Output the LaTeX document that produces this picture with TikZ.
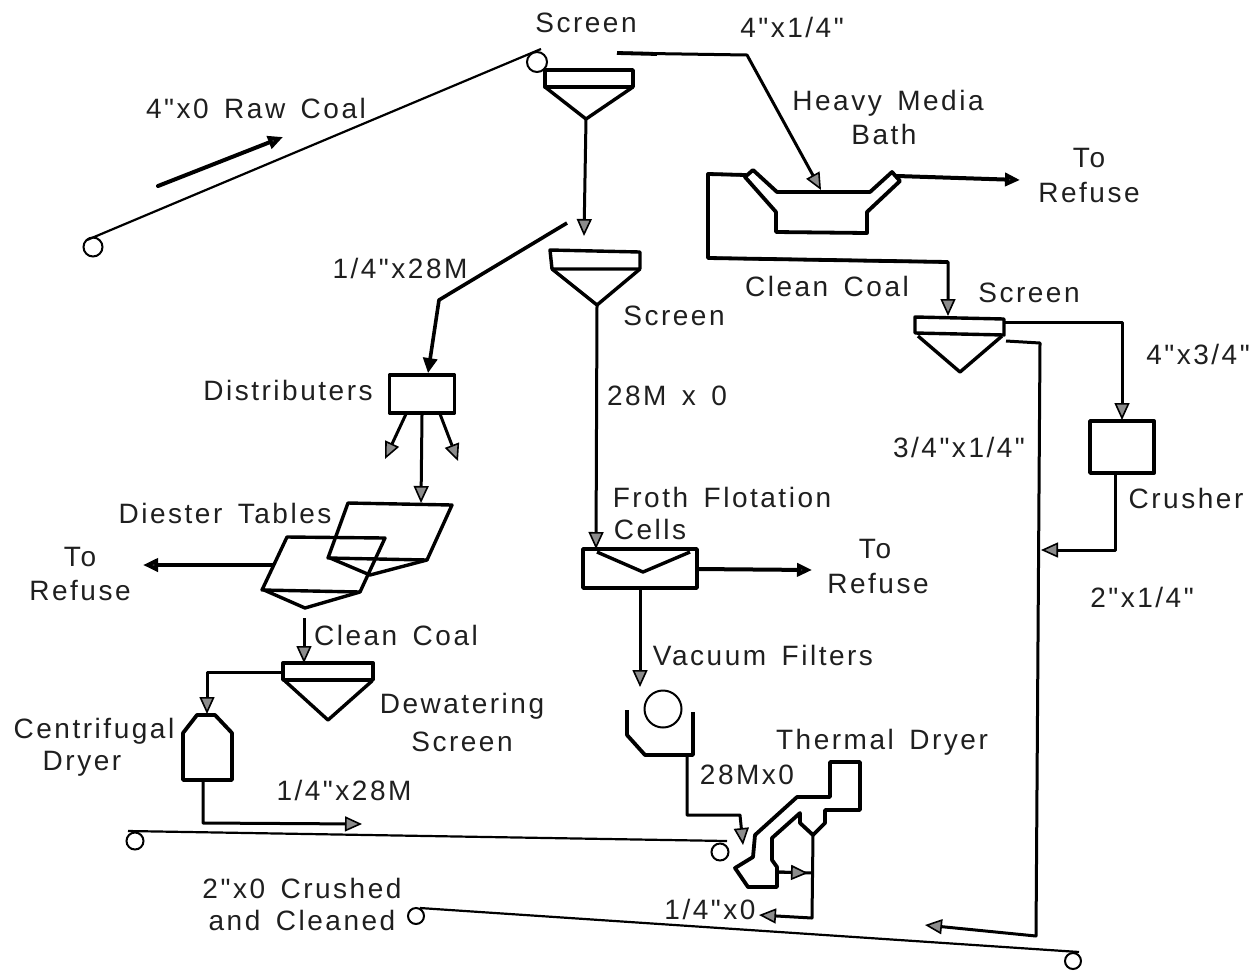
\documentclass[tikz,border=0pt]{standalone}
\usepackage{fontspec}
\setmainfont[LetterSpace=9,WordSpace=1.5,Ligatures=TeXOff]{Liberation Sans}
\usetikzlibrary{arrows.meta}
\tikzset{
  lab/.style={font=\fontsize{28}{30}\selectfont,inner sep=0pt,text=black!88,align=center},
  thinline/.style={line width=2.2pt,line join=round},
  flow/.style={line width=3pt,line join=round,-{Triangle[open,fill=black!45,length=17pt,width=15pt,line width=1.6pt]}},
  flowbold/.style={line width=4pt,line join=round,line cap=round,-{Triangle[length=15pt,width=13pt,fill=black!75]}},
  equip/.style={line width=3.4pt,line join=round},
  wall/.style={line width=3.8pt,line join=round},
  drum/.style={circle,draw,line width=2pt,inner sep=0pt},
  boxnode/.style={rectangle,draw,line width=3.8pt,inner sep=0pt,line join=round},
}
\begin{document}
\begin{tikzpicture}[x=1pt,y=-1pt]
\useasboundingbox (0,0) rectangle (1257,970);
% drums
\node[drum,minimum size=19pt] (d1a) at (93,247) {};
\node[drum,minimum size=20pt] (d1b) at (537,62) {};
\node[drum,minimum size=17pt] (d2a) at (135,841) {};
\node[drum,minimum size=17pt] (d2b) at (720,852) {};
\node[drum,minimum size=16pt] (d3a) at (416,916) {};
\node[drum,minimum size=16pt] (d3b) at (1073,961) {};
\coordinate (c1a) at (87,240); \coordinate (c1b) at (541,49);
\coordinate (c2a) at (128,831); \coordinate (c2b) at (727,841);
\coordinate (c3a) at (420,908); \coordinate (c3b) at (1079,952);
\draw[thinline] (c1a) -- (c1b);
\draw[thinline] (c2a) -- (c2b);
\draw[thinline] (c3a) -- (c3b);
% raw coal direction
\coordinate (r1) at (158,186); \coordinate (r2) at (283,137);
\draw[flowbold] (r1) -- (r2);
% Screen 1
\coordinate (s1tip) at (586,119);
\draw[equip] (545,70) -- (633,70) -- (633,87) -- (545,87) -- cycle;
\draw[equip] (545,87) -- (s1tip) -- (633,87);
\coordinate (s1in) at (584,236);
\draw[flow] (s1tip) -- (s1in);
% to heavy media
\coordinate (o1) at (617,53); \coordinate (o2) at (747,55); \coordinate (bathin) at (821,190);
\draw[flow] (o1) -- (o2) -- (bathin);
\draw[wall] (o1) -- ++(40,1);
% bath
\draw[wall] (745,177) -- (753,170) -- (777,192) -- (870,192) -- (892,172) -- (900,181) -- (867,212) -- (867,233) -- (776,232) -- (776,212) -- cycle;
\coordinate (bl) at (746,175); \coordinate (br) at (897,176); \coordinate (ref1) at (1020,180);
\draw[flowbold] (br) -- (ref1);
\coordinate (s3in) at (948,316);
\draw[flow] (bl) -- (708,174) -- (708,258) -- (948,262) -- (s3in);
\draw[wall] (bl) -- (708,174) -- (708,258) -- (948,262);
% Screen 3
\coordinate (s3tip) at (960,372); \coordinate (s3r) at (1004,322); \coordinate (s3r2) at (1006,341);
\draw[equip] (915,317) -- (1004,319) -- (1004,335) -- (915,333) -- cycle;
\draw[equip] (918,336) -- (s3tip) -- (1002,336);
\node[boxnode,minimum width=64pt,minimum height=52pt] (crusher) at (1122,447) {};
\coordinate (crin) at (1122,420);
\draw[flow] (s3r) -- (1122,322) -- (crin);
\coordinate (crout) at (1115,473); \coordinate (join) at (1041,550);
\draw[flow] (crout) -- (1115,550) -- (join);
\coordinate (belt3) at (925,925);
\draw[flow] (s3r2) -- (1040,343) -- (1036,936) -- (belt3);
% Screen 2
\coordinate (s2tip) at (597,305);
\draw[equip] (550,250) -- (640,252) -- (640,269) -- (552,269) -- cycle;
\draw[equip] (552,269) -- (s2tip) -- (640,269);
\coordinate (frin) at (596,549);
\draw[flow] (s2tip) -- (frin);
% 1/4 x 28M
\coordinate (m1) at (567,223); \coordinate (m2) at (439,300);
\node[boxnode,minimum width=65pt,minimum height=38pt] (dist) at (422,394) {};
\draw[line width=3.6pt,line join=round,-{Triangle[length=15pt,width=14pt]}] (m1) -- (m2) -- (dist.north -| 428,360);
% distributor arrows
\coordinate (da) at (385,459); \coordinate (db) at (421,503); \coordinate (dc) at (458,461);
\draw[flow] (406,414) -- (da);
\draw[flow] (dist.south) -- (db);
\draw[flow] (440,414) -- (dc);
% Diester tables
\draw[equip] (348,503) -- (452,505) -- (427,560) -- (328,558) -- cycle;
\draw[equip] (330,558) -- (370,575) -- (427,560);
\draw[equip] (287,537) -- (385,538) -- (360,592) -- (262,590) -- cycle;
\draw[equip] (264,590) -- (305,608) -- (360,592);
\coordinate (tl) at (273,565); \coordinate (ref2) at (143,565);
\draw[flowbold] (tl) -- (ref2);
\coordinate (cc1) at (304,618); \coordinate (dwin) at (304,663);
\draw[flow] (cc1) -- (dwin);
% Dewatering screen
\draw[equip] (283,663) -- (373,663) -- (373,680) -- (283,680) -- cycle;
\draw[equip] (285,681) -- (328,720) -- (372,681);
\coordinate (dwl) at (283,672); \coordinate (cfin) at (207,714);
\draw[flow] (dwl) -- (207,672) -- (cfin);
% Centrifugal dryer
\draw[wall] (183,733) -- (183,780) -- (232,780) -- (232,733) -- (215,715) -- (197,715) -- cycle;
\coordinate (cfo) at (203,780); \coordinate (b2) at (362,824);
\draw[flow] (cfo) -- (203,823) -- (b2);
% Froth cell
\draw[wall] (583,549) -- (697,549) -- (697,588) -- (583,588) -- cycle;
\draw[equip] (597,552) -- (643,572) -- (690,552);
\coordinate (fo) at (697,569); \coordinate (ref3) at (812,570);
\draw[flowbold] (fo) -- (ref3);
\coordinate (fb) at (640,589); \coordinate (vin) at (640,687);
\draw[flow] (fb) -- (vin);
% Vacuum filter
\node[drum,minimum size=37pt] (vf) at (663,709) {};
\draw[wall] (627,710) -- (627,735) -- (645,755) -- (693,755) -- (693,712);
\coordinate (vo) at (687,755); \coordinate (tdin) at (743,845);
\draw[flow] (vo) -- (687,815) -- (740,815) -- (tdin);
% Thermal dryer
\draw[wall] (755,835) -- (797,797) -- (830,797) -- (830,762) -- (860,762) -- (860,810) -- (825,810) -- (825,823) -- (813,835) -- (800,823) -- (800,813) -- (772,838) -- (772,860) -- (777,867) -- (777,887) -- (748,887) -- (735,868) -- (753,857) -- cycle;
\coordinate (tdo) at (813,835); \coordinate (tdj) at (812,918); \coordinate (tda) at (759,915);
\draw[flow] (tdo) -- (tdj) -- (tda);
\coordinate (tdb1) at (777,872); \coordinate (tdb2) at (812,873);
\draw[line width=3pt] (tdb1) -- (tdb2);
\draw[flow] (tdb1) -- (808,873);
% labels
\node[lab] (t1) at (586,23) {Screen};
\node[lab] (t2) at (792,27) {4"x1/4"};
\node[lab] (t3) at (888,103) {Heavy Media};
\node[lab] (t4) at (884,134) {Bath};
\node[lab] (t5) at (256,108) {4"x0 Raw Coal};
\node[lab] (t6) at (1089,158) {To};
\node[lab] (t7) at (1089,192) {Refuse};
\node[lab] (t8) at (827,286) {Clean Coal};
\node[lab] (t9) at (1029,293) {Screen};
\node[lab] (t10) at (1198,354) {4"x3/4"};
\node[lab] (t11) at (674,316) {Screen};
\node[lab] (t12) at (400,268) {1/4"x28M};
\node[lab] (t13) at (288,390) {Distributers};
\node[lab] (t14) at (667,396) {28M x 0};
\node[lab] (t15) at (959,447) {3/4"x1/4"};
\node[lab] (t16) at (1186,498) {Crusher};
\node[lab] (t17) at (722,497) {Froth Flotation};
\node[lab] (t18) at (650,529) {Cells};
\node[lab] (t19) at (225,513) {Diester Tables};
\node[lab] (t20) at (80,557) {To};
\node[lab] (t21) at (80,590) {Refuse};
\node[lab] (t22) at (875,549) {To};
\node[lab] (t23) at (878,583) {Refuse};
\node[lab] (t24) at (1142,597) {2"x1/4"};
\node[lab] (t25) at (396,635) {Clean Coal};
\node[lab] (t26) at (763,655) {Vacuum Filters};
\node[lab] (t27) at (462,706) {Dewatering};
\node[lab] (t28) at (462,742) {Screen};
\node[lab] (t29) at (94,731) {Centrifugal};
\node[lab] (t30) at (82,764) {Dryer};
\node[lab] (t31) at (882,742) {Thermal Dryer};
\node[lab] (t32) at (747,775) {28Mx0};
\node[lab] (t33) at (344,790) {1/4"x28M};
\node[lab] (t34) at (302,888) {2"x0 Crushed};
\node[lab] (t35) at (302,920) {and Cleaned};
\node[lab] (t36) at (710,909) {1/4"x0};
\end{tikzpicture}
\end{document}
